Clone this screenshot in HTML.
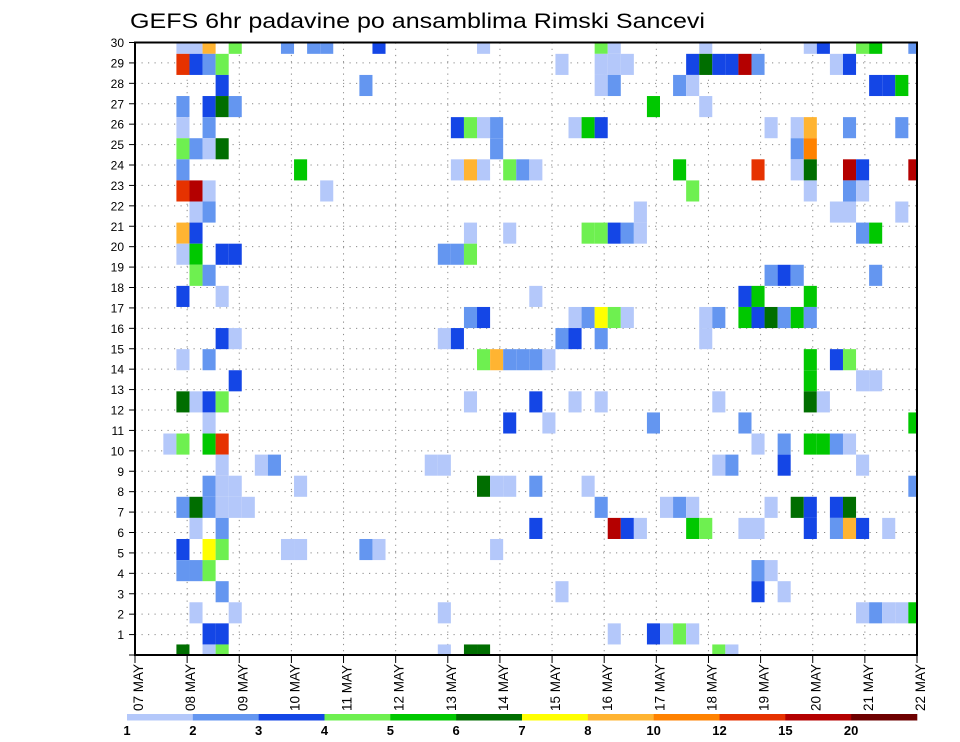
<!DOCTYPE html>
<html><head><meta charset="utf-8">
<style>
html,body{margin:0;padding:0;background:#fff;}
svg{display:block;font-family:"Liberation Sans",Arial,sans-serif;}
</style></head>
<body>
<svg id="chart" width="960" height="742" viewBox="0 0 960 742" xmlns="http://www.w3.org/2000/svg">
<rect x="0" y="0" width="960" height="742" fill="#fff"/>
<text x="130" y="28" font-size="21" textLength="575" lengthAdjust="spacingAndGlyphs" fill="#000">GEFS 6hr padavine po ansamblima Rimski Sancevi</text>
<g id="grid"></g>
<g id="cells"></g>
<rect x="135" y="42.5" width="782" height="612.5" fill="none" stroke="#000" stroke-width="2"/>
<g id="yaxis"></g>
<g id="xaxis"></g>
<g id="legend"></g>
</svg>
<script>
// ---- data ----
const dayLabels = ["07 MAY","08 MAY","09 MAY","10 MAY","11 MAY","12 MAY","13 MAY","14 MAY","15 MAY","16 MAY","17 MAY","18 MAY","19 MAY","20 MAY","21 MAY","22 MAY"];
const yTicks = [0,1,2,3,4,5,6,7,8,9,10,11,12,13,14,15,16,17,18,19,20,21,22,23,24,25,26,27,28,29,30];
const yTickLabels = ["","1","2","3","4","5","6","7","8","9","10","11","12","13","14","15","16","17","18","19","20","21","22","23","24","25","26","27","28","29","30"];
const legendBounds = [1,2,3,4,5,6,7,8,10,12,15,20];
const legendColors = ["#b4c8fa","#6496f0","#1446e6","#6ef050","#00c800","#006e00","#ffff00","#ffb432","#ff8200","#e63200","#b40000","#6e0000"];
// member rows top (0) to bottom (29); column = 6h step
const rowCols = [
[3,4,5,7,11,13,14,18,26,35,36,43,51,52,55,56,59],
[3,4,5,6,32,35,36,37,42,43,44,45,46,47,53,54],
[6,17,35,36,41,42,56,57,58],
[3,5,6,7,39,43],
[3,5,24,25,26,27,33,34,35,48,50,51,54,58],
[3,4,5,6,27,50,51],
[3,12,24,25,26,28,29,30,41,47,50,51,54,55,59],
[3,4,5,14,42,51,54,55],
[4,5,38,53,54,58],
[3,4,25,28,34,35,36,37,38,55,56],
[3,4,6,7,23,24,25],
[4,5,48,49,50,56],
[3,6,30,46,47,51],
[25,26,33,34,35,36,37,43,44,46,47,48,49,50,51],
[6,7,23,24,32,33,35,43],
[3,5,26,27,28,29,30,31,51,53,54],
[7,51,55,56],
[3,4,5,6,25,30,33,35,44,51,52],
[5,28,31,39,46,59],
[2,3,5,6,47,49,51,52,53,54],
[6,9,10,22,23,44,45,49,55],
[5,6,7,12,26,27,28,30,34,59],
[3,4,5,6,7,8,35,40,41,42,48,50,51,53,54],
[4,6,30,36,37,38,42,43,46,47,51,53,54,55,57],
[3,5,6,11,12,17,18,27],
[3,4,5,47,48],
[6,32,47,49],
[4,7,23,55,56,57,58,59],
[5,6,36,39,40,41,42],
[3,5,6,23,25,26,44,45]
];
const rowVals = [
[1.5,1.5,9,4.5,2.5,2.5,2.5,3.5,1.5,4.5,1.5,1.5,1.5,3.5,4.5,5.5,2.5],
[13,3.5,2.5,4.5,1.5,1.5,1.5,1.5,3.5,6.5,3.5,3.5,17,2.5,1.5,3.5],
[3.5,2.5,1.5,2.5,2.5,1.5,3.5,3.5,5.5],
[2.5,3.5,6.5,2.5,5.5,1.5],
[1.5,2.5,3.5,4.5,1.5,2.5,1.5,5.5,3.5,1.5,1.5,9,2.5,2.5],
[4.5,2.5,1.5,6.5,2.5,2.5,11],
[2.5,5.5,1.5,9,1.5,4.5,2.5,1.5,5.5,13,1.5,6.5,17,3.5,17],
[13,17,1.5,1.5,4.5,1.5,2.5,1.5],
[1.5,2.5,1.5,1.5,1.5,1.5],
[9,3.5,1.5,1.5,4.5,4.5,3.5,2.5,1.5,2.5,5.5],
[1.5,5.5,3.5,3.5,2.5,2.5,4.5],
[4.5,2.5,2.5,3.5,2.5,2.5],
[3.5,1.5,1.5,3.5,5.5,5.5],
[2.5,3.5,1.5,2.5,7.5,4.5,1.5,1.5,2.5,5.5,3.5,6.5,2.5,5.5,2.5],
[3.5,1.5,1.5,3.5,2.5,3.5,2.5,1.5],
[1.5,2.5,4.5,9,2.5,2.5,2.5,1.5,5.5,3.5,4.5],
[3.5,5.5,1.5,1.5],
[6.5,1.5,3.5,4.5,1.5,3.5,1.5,1.5,1.5,6.5,1.5],
[1.5,3.5,1.5,2.5,2.5,5.5],
[1.5,4.5,5.5,13,1.5,2.5,5.5,5.5,2.5,1.5],
[1.5,1.5,2.5,1.5,1.5,1.5,2.5,3.5,1.5],
[2.5,1.5,1.5,1.5,6.5,1.5,1.5,2.5,1.5,2.5],
[2.5,6.5,2.5,1.5,1.5,1.5,2.5,1.5,2.5,1.5,1.5,6.5,3.5,3.5,6.5],
[1.5,2.5,3.5,17,3.5,1.5,5.5,4.5,1.5,1.5,3.5,2.5,9,3.5,1.5],
[3.5,7.5,4.5,1.5,1.5,2.5,1.5,1.5],
[2.5,2.5,4.5,2.5,1.5],
[2.5,1.5,3.5,1.5],
[1.5,1.5,1.5,1.5,2.5,1.5,1.5,5.5],
[3.5,3.5,1.5,3.5,1.5,4.5,1.5],
[6.5,1.5,4.5,1.5,6.5,6.5,4.5,1.5]
];

// ---- scales ----
const NS = "http://www.w3.org/2000/svg";
const PX0 = 135, PX1 = 917, PY0 = 42.5, PY1 = 655;
function xDay(d){ return PX0 + d * (PX1 - PX0) / 15; }
function yLevel(v){ return PY1 - v * (PY1 - PY0) / 30; }
const CW = 13.07, CX0 = 137.2;
function xCol(c){ return CX0 + c * CW; }
const RH = (PY1 - 43.3) / 29;
function yRow(r){ return 43.3 + r * RH; }
function colorFor(v){
  let idx = 0;
  for (let i = 0; i < legendBounds.length; i++) if (v >= legendBounds[i]) idx = i;
  return legendColors[idx];
}
function mk(tag, attrs, parent){
  const e = document.createElementNS(NS, tag);
  for (const k in attrs) e.setAttribute(k, attrs[k]);
  parent.appendChild(e);
  return e;
}

// ---- grid ----
const grid = document.getElementById('grid');
yTicks.forEach(function(v){
  const l = mk('line', {x1:PX0, x2:PX1, y1:yLevel(v), y2:yLevel(v), stroke:'#8a8a8a', 'stroke-width':1, 'stroke-dasharray':'1.2 5.3'}, grid);
  
  
});
dayLabels.forEach(function(lbl, d){
  const l = mk('line', {x1:xDay(d), x2:xDay(d), y1:PY0, y2:PY1, stroke:'#8a8a8a', 'stroke-width':1, 'stroke-dasharray':'1.2 5'}, grid);
  
  
});

// ---- cells ----
const cells = document.getElementById('cells');
rowCols.forEach(function(cols, r){
  cols.forEach(function(c, i){
    let x0 = xCol(c), x1 = Math.min(xCol(c + 1), PX1);
    let y0 = Math.max(yRow(r) - RH / 2, 43.3), y1 = Math.min(yRow(r) + RH / 2, PY1);
    const rc = mk('rect', {x:x0, y:y0, width:x1 - x0, height:y1 - y0, fill:colorFor(rowVals[r][i])}, cells);
    
    
  });
});

// ---- y axis ----
const ya = document.getElementById('yaxis');
yTicks.forEach(function(v, i){
  const t = mk('line', {x1:PX0 - 6, x2:PX0, y1:yLevel(v), y2:yLevel(v), stroke:'#000', 'stroke-width':1}, ya);
  
  
  if (yTickLabels[i] !== "") {
    const tx = mk('text', {x:124, y:yLevel(v) + 4.5, 'font-size':12, 'text-anchor':'end', fill:'#000'}, ya);
    tx.textContent = yTickLabels[i];
    
    
  }
});

// ---- x axis ----
const xa = document.getElementById('xaxis');
dayLabels.forEach(function(lbl, d){
  const x = xDay(d);
  const t = mk('line', {x1:x, x2:x, y1:PY1, y2:PY1 + 8, stroke:'#000', 'stroke-width':1}, xa);
  
  
  const tx = mk('text', {x:0, y:0, 'font-size':13.5, fill:'#000', transform:'translate(' + (x + 8) + ',711) rotate(-90)'}, xa);
  tx.textContent = lbl;
  
  
});

// ---- legend ----
const lg = document.getElementById('legend');
const LX0 = 127, LX1 = 917, LW = (LX1 - LX0) / legendColors.length;
legendColors.forEach(function(col, i){
  const r = mk('rect', {x:LX0 + i * LW, y:714, width:LW + 0.3, height:6.5, fill:col}, lg);
  
  
});
legendBounds.forEach(function(b, i){
  const tx = mk('text', {x:LX0 + i * LW, y:735, 'font-size':13, 'font-weight':'bold', 'text-anchor':'middle', fill:'#000'}, lg);
  tx.textContent = String(b);
  
  
});
</script>
</body></html>
